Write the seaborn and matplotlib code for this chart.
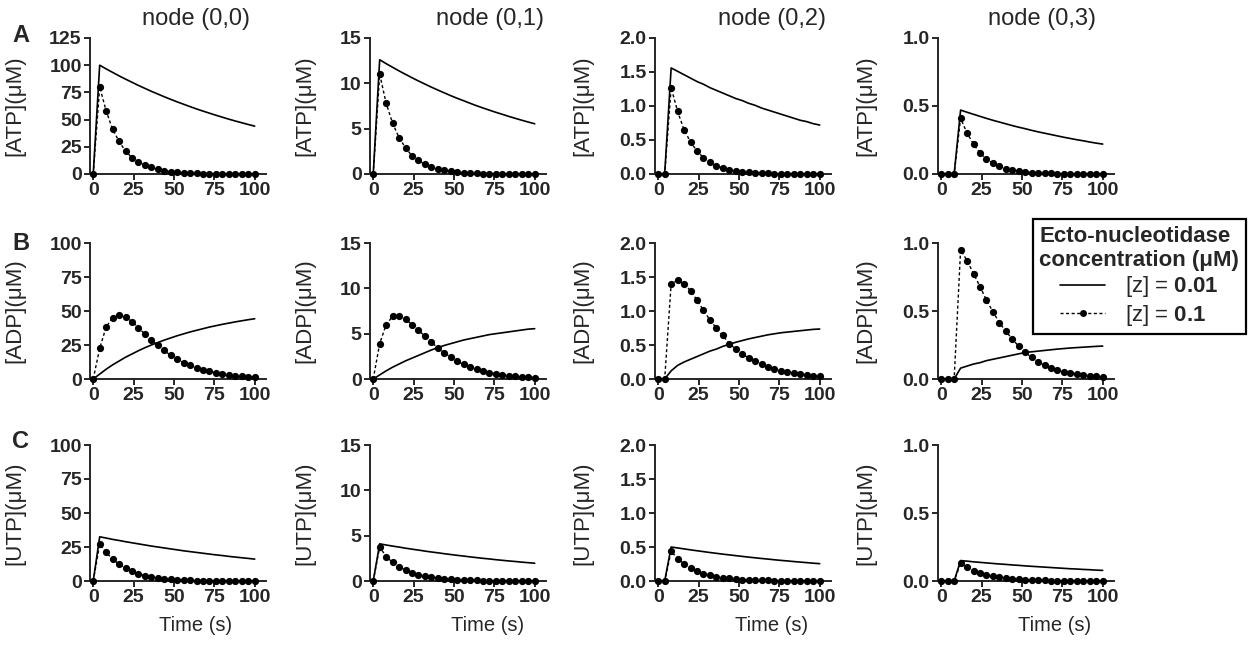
import matplotlib
matplotlib.use("Agg")
import matplotlib.pyplot as plt
import seaborn as sns
import pandas as pd
from matplotlib.lines import Line2D
from matplotlib.ticker import FormatStrFormatter, MultipleLocator

# ---------------- data ----------------
time_s = [0, 4, 8, 12, 16, 20, 24, 28, 32, 36, 40, 44, 48, 52, 56, 60,
          64, 68, 72, 76, 80, 84, 88, 92, 96, 100]

node_titles = ["node (0,0)", "node (0,1)", "node (0,2)", "node (0,3)"]
row_labels = ["[ATP](μM)", "[ADP](μM)", "[UTP](μM)"]
row_letters = ["A", "B", "C"]
legend_labels = [r"[z] = $\mathbf{0.01}$", r"[z] = $\mathbf{0.1}$"]

# ATP
atp_n0_low = [0, 100, 96.6, 93.4, 90.2, 87.2, 84.3, 81.4, 78.7, 76.0, 73.5, 71.0, 68.6, 66.3, 64.1, 61.9, 59.8, 57.8, 55.9, 54.0, 52.2, 50.4, 48.7, 47.1, 45.5, 44.0]
atp_n0_high = [0, 80, 58, 41, 30, 21, 15, 11, 8, 6, 4.3, 3.1, 2.2, 1.6, 1.1, 0.8, 0.6, 0.4, 0.3, 0.2, 0.15, 0.1, 0.08, 0.06, 0.04, 0.03]
atp_n1_low = [0, 12.6, 12.17, 11.77, 11.37, 10.99, 10.62, 10.26, 9.92, 9.58, 9.26, 8.95, 8.64, 8.35, 8.08, 7.80, 7.53, 7.28, 7.04, 6.80, 6.58, 6.35, 6.14, 5.93, 5.73, 5.54]
atp_n1_high = [0, 11.0, 7.8, 5.6, 4.0, 2.9, 2.0, 1.5, 1.05, 0.75, 0.55, 0.4, 0.28, 0.2, 0.15, 0.1, 0.07, 0.05, 0.04, 0.03, 0.02, 0.015, 0.01, 0.01, 0.005, 0.005]
atp_n2_low = [0, 0, 1.56, 1.51, 1.46, 1.41, 1.36, 1.32, 1.27, 1.23, 1.19, 1.15, 1.11, 1.08, 1.04, 1.01, 0.97, 0.94, 0.91, 0.88, 0.85, 0.82, 0.79, 0.77, 0.74, 0.72]
atp_n2_high = [0, 0, 1.27, 0.92, 0.65, 0.47, 0.34, 0.24, 0.17, 0.12, 0.09, 0.065, 0.045, 0.033, 0.024, 0.017, 0.012, 0.009, 0.006, 0.005, 0.003, 0.002, 0.002, 0.001, 0.001, 0.001]
atp_n3_low = [0, 0, 0, 0.470, 0.454, 0.439, 0.424, 0.409, 0.395, 0.382, 0.369, 0.356, 0.344, 0.333, 0.321, 0.310, 0.300, 0.290, 0.280, 0.270, 0.261, 0.252, 0.244, 0.235, 0.227, 0.220]
atp_n3_high = [0, 0, 0, 0.41, 0.30, 0.22, 0.155, 0.11, 0.08, 0.057, 0.04, 0.03, 0.021, 0.015, 0.011, 0.008, 0.006, 0.004, 0.003, 0.002, 0.0015, 0.001, 0.001, 0.001, 0.0005, 0.0005]

# ADP
adp_n0_low = [0, 3.6, 7.2, 10.4, 13.2, 16.0, 18.4, 20.8, 23.0, 25.0, 26.8, 28.6, 30.2, 31.8, 33.2, 34.6, 35.8, 37.0, 38.2, 39.2, 40.2, 41.1, 42.0, 42.8, 43.6, 44.3]
adp_n0_high = [0, 22.5, 38.3, 45.0, 47.0, 45.7, 42.2, 37.8, 32.9, 28.4, 25.0, 21.0, 17.3, 14.5, 12.0, 10.0, 8.3, 6.8, 5.6, 4.6, 3.7, 3.0, 2.5, 2.0, 1.6, 1.3]
adp_n1_low = [0, 0.45, 0.9, 1.3, 1.65, 2.0, 2.3, 2.6, 2.9, 3.2, 3.45, 3.7, 3.9, 4.1, 4.3, 4.45, 4.6, 4.75, 4.9, 5.0, 5.1, 5.2, 5.3, 5.4, 5.5, 5.55]
adp_n1_high = [0, 3.9, 6.0, 6.9, 6.9, 6.6, 6.0, 5.4, 4.7, 4.1, 3.4, 2.9, 2.4, 1.95, 1.6, 1.3, 1.05, 0.85, 0.7, 0.57, 0.46, 0.37, 0.3, 0.24, 0.2, 0.16]
adp_n2_low = [0, 0, 0.12, 0.2, 0.25, 0.29, 0.33, 0.37, 0.41, 0.44, 0.48, 0.51, 0.54, 0.565, 0.59, 0.61, 0.63, 0.65, 0.665, 0.68, 0.69, 0.70, 0.71, 0.72, 0.73, 0.735]
adp_n2_high = [0, 0, 1.40, 1.45, 1.40, 1.30, 1.16, 1.01, 0.87, 0.75, 0.64, 0.52, 0.44, 0.37, 0.31, 0.26, 0.22, 0.18, 0.15, 0.125, 0.105, 0.088, 0.073, 0.06, 0.05, 0.042]
adp_n3_low = [0, 0, 0.0, 0.08, 0.095, 0.11, 0.12, 0.135, 0.145, 0.155, 0.165, 0.175, 0.185, 0.195, 0.2, 0.205, 0.21, 0.215, 0.22, 0.224, 0.228, 0.231, 0.234, 0.237, 0.24, 0.242]
adp_n3_high = [0, 0, 0, 0.95, 0.87, 0.775, 0.68, 0.58, 0.495, 0.415, 0.35, 0.295, 0.24, 0.195, 0.16, 0.125, 0.1, 0.08, 0.065, 0.052, 0.042, 0.034, 0.028, 0.023, 0.019, 0.015]

# UTP
utp_n0_low = [0, 32.5, 31.6, 30.6, 29.8, 28.9, 28.1, 27.3, 26.5, 25.7, 25.0, 24.3, 23.6, 22.9, 22.2, 21.6, 21.0, 20.4, 19.8, 19.2, 18.7, 18.1, 17.6, 17.1, 16.6, 16.1]
utp_n0_high = [0, 27, 21, 16, 12.4, 9.4, 7.1, 5.3, 4.0, 3.0, 2.2, 1.6, 1.2, 0.9, 0.65, 0.5, 0.35, 0.26, 0.2, 0.14, 0.1, 0.08, 0.06, 0.04, 0.03, 0.02]
utp_n1_low = [0, 4.1, 3.97, 3.85, 3.74, 3.62, 3.51, 3.41, 3.30, 3.20, 3.11, 3.01, 2.92, 2.83, 2.75, 2.66, 2.58, 2.50, 2.43, 2.35, 2.28, 2.21, 2.15, 2.08, 2.02, 1.96]
utp_n1_high = [0, 3.75, 2.7, 2.05, 1.57, 1.2, 0.92, 0.7, 0.53, 0.4, 0.3, 0.23, 0.17, 0.13, 0.1, 0.075, 0.056, 0.042, 0.032, 0.024, 0.018, 0.014, 0.01, 0.008, 0.006, 0.005]
utp_n2_low = [0, 0, 0.50, 0.486, 0.472, 0.458, 0.445, 0.432, 0.419, 0.407, 0.395, 0.384, 0.373, 0.362, 0.351, 0.341, 0.331, 0.322, 0.312, 0.303, 0.295, 0.286, 0.278, 0.270, 0.262, 0.255]
utp_n2_high = [0, 0, 0.435, 0.33, 0.25, 0.19, 0.145, 0.11, 0.085, 0.065, 0.05, 0.038, 0.029, 0.022, 0.017, 0.013, 0.01, 0.0075, 0.0057, 0.0044, 0.0034, 0.0026, 0.002, 0.0015, 0.0012, 0.0009]
utp_n3_low = [0, 0, 0, 0.15, 0.146, 0.141, 0.137, 0.133, 0.129, 0.125, 0.122, 0.118, 0.115, 0.111, 0.108, 0.105, 0.102, 0.099, 0.096, 0.093, 0.090, 0.088, 0.085, 0.083, 0.080, 0.078]
utp_n3_high = [0, 0, 0, 0.13, 0.1, 0.076, 0.058, 0.044, 0.034, 0.026, 0.02, 0.015, 0.0115, 0.0088, 0.0067, 0.0051, 0.0039, 0.003, 0.0023, 0.0017, 0.0013, 0.001, 0.0008, 0.0006, 0.0005, 0.0004]

# y-axis maxima / tick steps per row and column
ymax = [[125, 15, 2.0, 1.0], [100, 15, 2.0, 1.0], [100, 15, 2.0, 1.0]]
ystep = [[25, 5, 0.5, 0.5], [25, 5, 0.5, 0.5], [25, 5, 0.5, 0.5]]
x_ticks = [0, 25, 50, 75, 100]

panels = [
    [(atp_n0_low, atp_n0_high), (atp_n1_low, atp_n1_high), (atp_n2_low, atp_n2_high), (atp_n3_low, atp_n3_high)],
    [(adp_n0_low, adp_n0_high), (adp_n1_low, adp_n1_high), (adp_n2_low, adp_n2_high), (adp_n3_low, adp_n3_high)],
    [(utp_n0_low, utp_n0_high), (utp_n1_low, utp_n1_high), (utp_n2_low, utp_n2_high), (utp_n3_low, utp_n3_high)],
]

# ---------------- style ----------------
sns.set_style("ticks")
plt.rcParams["font.family"] = ["Liberation Sans", "DejaVu Sans"]
plt.rcParams["mathtext.fontset"] = "custom"
plt.rcParams["mathtext.rm"] = "Liberation Sans"
plt.rcParams["mathtext.bf"] = "Liberation Sans:bold"
plt.rcParams["axes.linewidth"] = 1.4

W, H = 1258, 646
fig = plt.figure(figsize=(W / 100, H / 100), dpi=100)

col_left = [90, 370, 655, 938]
col_width = 176
row_top = [38, 243, 445]
row_height = 136
ylabel_x = [-0.37, -0.31, -0.35, -0.35]
title_x = [196, 490, 772, 1042]
xlabel_frac = [0.6, 0.67, 0.66, 0.66]

dash_style = (0, (2.2, 1.8))

for r in range(3):
    for c in range(4):
        ax = fig.add_axes([col_left[c] / W, 1 - (row_top[r] + row_height) / H,
                           col_width / W, row_height / H])
        low, high = panels[r][c]
        sns.lineplot(x=time_s, y=low, ax=ax, color="black", lw=1.2,
                     clip_on=False, zorder=3)
        sns.lineplot(x=time_s, y=high, ax=ax, color="black", lw=1.0,
                     linestyle=dash_style, marker="o", markersize=5.2,
                     markeredgewidth=0, clip_on=False, zorder=4)
        ax.set_xlim(-2, 107)
        ax.set_ylim(0, ymax[r][c])
        ax.set_xticks(x_ticks)
        ax.yaxis.set_major_locator(MultipleLocator(ystep[r][c]))
        if ymax[r][c] <= 2:
            ax.yaxis.set_major_formatter(FormatStrFormatter("%.1f"))
        else:
            ax.yaxis.set_major_formatter(FormatStrFormatter("%d"))
        sns.despine(ax=ax)
        ax.tick_params(axis="both", direction="out", length=4, width=1.4,
                       labelsize=14, pad=2)
        for lab in ax.get_xticklabels() + ax.get_yticklabels():
            lab.set_fontweight("bold")
        ax.set_ylabel(row_labels[r], fontsize=16)
        ax.yaxis.set_label_coords(ylabel_x[c], 0.5)
        if r == 2:
            ax.set_xlabel("Time (s)", fontsize=14.5)
            ax.xaxis.set_label_coords(xlabel_frac[c], -0.26)
        else:
            ax.set_xlabel("")

for c in range(4):
    fig.text(title_x[c] / W, 1 - 19 / H, node_titles[c], fontsize=17,
             ha="center", va="center")

letter_y = [36, 244, 441]
for r in range(3):
    fig.text(12 / W, 1 - letter_y[r] / H, row_letters[r], fontsize=17,
             fontweight="bold", ha="left", va="center")

handles = [
    Line2D([], [], color="black", lw=1.2),
    Line2D([], [], color="black", lw=1.0, linestyle=dash_style, marker="o",
           markersize=5, markeredgewidth=0),
]
leg = fig.legend(handles, legend_labels,
                 title="Ecto-nucleotidase\nconcentration (μM)",
                 loc="upper right", bbox_to_anchor=(1257 / W, 1 - 208 / H),
                 fontsize=16, title_fontproperties={"weight": "bold", "size": 16},
                 frameon=True, fancybox=False, edgecolor="black",
                 handlelength=2.0, handletextpad=0.9, borderpad=0.3,
                 labelspacing=0.15)
leg.get_frame().set_linewidth(1.6)
leg.get_frame().set_alpha(1)

fig.savefig("out.png", dpi=100)
